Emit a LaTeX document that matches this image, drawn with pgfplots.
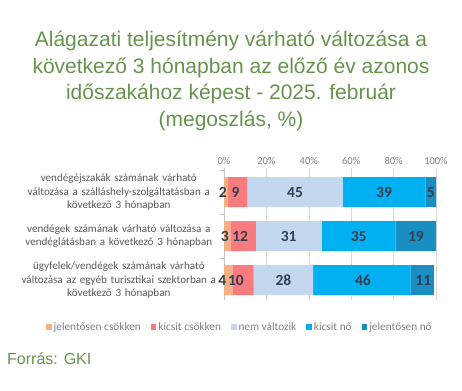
\documentclass[border=0pt]{standalone}
\usepackage{pgfplots}
\pgfplotsset{compat=1.18}
\usepackage{pgfplotstable}
\usepackage{fontspec}
\setmainfont{Carlito}
\newfontfamily\titlefont{Liberation Sans}
\definecolor{c1}{HTML}{F4B183}
\definecolor{c2}{HTML}{FA7B7E}
\definecolor{c3}{HTML}{C3D8EE}
\definecolor{c4}{HTML}{00B0F0}
\definecolor{c5}{HTML}{1A8EC2}
\definecolor{tgreen}{HTML}{66944C}
\definecolor{lbl}{HTML}{333F50}
\definecolor{txtgray}{HTML}{595959}
\definecolor{tickgray}{HTML}{7F7F7F}
\definecolor{gridgray}{HTML}{D9D9D9}
\pgfplotstableread{
cat a b c d e
2 2 9 45 39 5
1 3 12 31 35 19
0 4 10 28 46 11
}\bars
\pgfplotstableread{
x y lab
-0.6 2 2
5.4 2 9
33.5 2 45
75.5 2 39
97.5 2 5
0.4 1 3
7.6 1 12
30.5 1 31
63.5 1 35
90.5 1 19
-0.8 0 4
5.6 0 10
28 0 28
65.5 0 46
94 0 11
}\labels
\pgfplotsset{sqleg/.style={legend image code/.code={\fill[##1] (0pt,-2.8pt) rectangle (5.6pt,2.8pt);}}}
\begin{document}
\begin{tikzpicture}
\path (0pt,0pt) rectangle (462pt,390pt);
\begin{scope}[every node/.style={anchor=base, text=tgreen, font=\titlefont\fontsize{21}{27}\selectfont}]
\node at (231pt,343pt) {Alágazati teljesítmény várható változása a};
\node at (231pt,316pt) {következő 3 hónapban az előző év azonos};
\node at (231pt,290pt) {időszakához képest - 2025. február};
\node at (231pt,263pt) {(megoszlás, \%)};
\end{scope}
\node[anchor=base west, inner sep=0pt, text=tgreen, font=\titlefont\fontsize{16}{19}\selectfont] at (7pt,26pt) {Forrás: GKI};
\begin{axis}[at={(224pt,90pt)}, anchor=south west, scale only axis,
  width=212pt, height=132pt,
  xbar stacked, bar width=30pt,
  xmin=0, xmax=100, ymin=-0.45, ymax=2.55,
  axis x line*=top, axis y line*=left,
  x axis line style={draw=none},
  y axis line style={draw=gridgray!80!gray},
  xtick={0,20,40,60,80,100},
  xticklabels={0\%,20\%,40\%,60\%,80\%,100\%},
  xtick style={draw=none},
  xticklabel style={font=\fontsize{10.5}{13}\selectfont, text=tickgray},
  xmajorgrids, major grid style={draw=gridgray},
  ytick={0,1,2},
  yticklabels={{ügyfelek/vendégek számának várható\\változása az egyéb turisztikai szektorban a\\következő 3 hónapban},
               {vendégek számának várható változása a\\vendéglátásban a következő 3 hónapban},
               {vendégéjszakák számának várható\\változása a szálláshely-szolgáltatásban a\\következő 3 hónapban}},
  yticklabel style={align=center, text width=198pt, font=\fontsize{11.1}{13.2}\selectfont, text=txtgray, inner xsep=0pt, xshift=-6pt},
  minor ytick={-0.5,0.5,1.5,2.5},
  major tick length=0pt, minor tick length=4pt, tick align=outside,
  minor tick style={draw=gridgray!80!gray},
  legend columns=-1,
  legend style={at={(axis description cs:0.075,-0.205)}, anchor=center, draw=none, fill=none,
    font=\fontsize{11.3}{13}\selectfont, text=tickgray,
    /tikz/every even column/.append style={column sep=8pt}},
]
\addplot[fill=c1, draw=none, sqleg] table[x=a, y=cat] {\bars};
\addplot[fill=c2, draw=none, sqleg] table[x=b, y=cat] {\bars};
\addplot[fill=c3, draw=none, sqleg] table[x=c, y=cat] {\bars};
\addplot[fill=c4, draw=none, sqleg] table[x=d, y=cat] {\bars};
\addplot[fill=c5, draw=none, sqleg] table[x=e, y=cat] {\bars};
\legend{jelentősen csökken, kicsit csökken, nem változik, kicsit nő, jelentősen nő}
\end{axis}
\begin{axis}[at={(224pt,90pt)}, anchor=south west, scale only axis,
  width=212pt, height=132pt,
  xmin=0, xmax=100, ymin=-0.45, ymax=2.55,
  hide axis, clip=false]
\addplot[draw=none, mark=none, nodes near coords, point meta=explicit symbolic,
  every node near coord/.append style={anchor=center, text=lbl, font=\bfseries\fontsize{15.5}{18}\selectfont}]
  table[x=x, y=y, meta=lab] {\labels};
\end{axis}
\end{tikzpicture}
\end{document}
